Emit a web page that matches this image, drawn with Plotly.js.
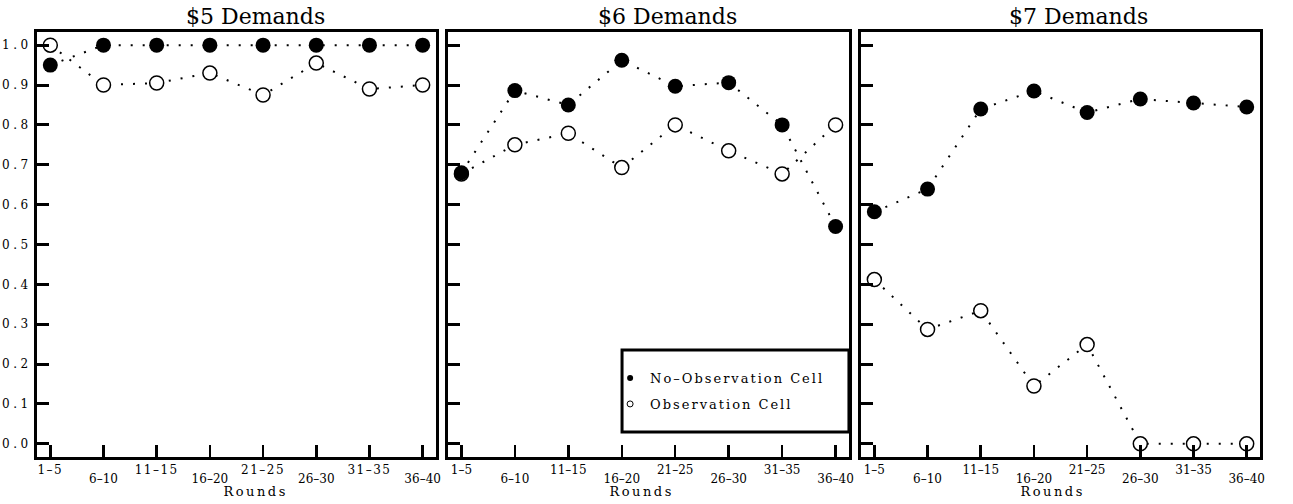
<!DOCTYPE html>
<html><head><meta charset="utf-8">
<script src="https://cdn.plot.ly/plotly-3.0.1.min.js"></script>
<style>
body{margin:0;background:#fff}
#chart{width:1293px;height:504px}
.xtick text{letter-spacing:1.5px}
.ytick text{letter-spacing:3.5px}
.legendtext{letter-spacing:2px}
.annotation[data-index="3"] text,.annotation[data-index="4"] text,.annotation[data-index="5"] text{letter-spacing:2.5px}
</style></head><body><div id="chart"></div>
<script>
const rounds = ['1–5','6–10','11–15','16–20','21–25','26–30','31–35','36–40'];
const panelTitles = ['$5 Demands','$6 Demands','$7 Demands'];
const seriesNames = ['No–Observation Cell','Observation Cell'];
const noObs5 = [0.95,1.0,1.0,1.0,1.0,1.0,1.0,1.0];
const obs5   = [1.0,0.90,0.905,0.93,0.875,0.955,0.89,0.90];
const noObs6 = [0.68,0.886,0.85,0.962,0.897,0.906,0.80,0.545];
const obs6   = [0.677,0.75,0.779,0.693,0.80,0.735,0.677,0.80];
const noObs7 = [0.582,0.639,0.84,0.885,0.831,0.865,0.855,0.845];
const obs7   = [0.412,0.287,0.334,0.145,0.249,0.0,0.0,0.0];
const yTicks = [0,0.1,0.2,0.3,0.4,0.5,0.6,0.7,0.8,0.9,1.0];

// labels alternate between an upper row (even positions) and a lower row (odd positions)
const upperText = rounds.map((r, i) => i % 2 === 0 ? r : '');
const lowerIdx = rounds.map((r, i) => i).filter(i => i % 2 === 1);
const lowerText = lowerIdx.map(i => rounds[i]);

const FONT = 'DejaVu Serif';
const lineStyle = {color:'#000', width:2, dash:'2px,10px'};
const filledMarker = {color:'#000', size:15, line:{width:0}};
const openMarker = {color:'#fff', size:14, line:{color:'#000', width:1.5}};

const panels = [[noObs5, obs5],[noObs6, obs6],[noObs7, obs7]];
const traces = [];
panels.forEach((p, i) => {
  const xa = i === 0 ? 'x' : 'x' + (i+1);
  const ya = i === 0 ? 'y' : 'y' + (i+1);
  traces.push({x: rounds, y: p[1], xaxis: xa, yaxis: ya, mode:'lines+markers', line: lineStyle, marker: openMarker, showlegend:false, cliponaxis:false, hoverinfo:'skip'});
  traces.push({x: rounds, y: p[0], xaxis: xa, yaxis: ya, mode:'lines+markers', line: lineStyle, marker: filledMarker, showlegend:false, cliponaxis:false, hoverinfo:'skip'});
  // empty carrier trace so the lower-row label axis is drawn
  traces.push({x:[null], y:[null], xaxis:'x' + (i+4), yaxis: ya, mode:'markers', showlegend:false, hoverinfo:'skip'});
});
// legend entries
traces.push({x:[null], y:[null], xaxis:'x2', yaxis:'y2', mode:'markers', name: seriesNames[0], legendgroup:'a', marker:{color:'#000', size:6, line:{width:0}}, showlegend:true});
traces.push({x:[null], y:[null], xaxis:'x2', yaxis:'y2', mode:'markers', name: seriesNames[1], legendgroup:'b', marker:{color:'#fff', size:6, line:{color:'#000', width:1}}, showlegend:true});

const domains = [[0, 0.3262],[0.3361, 0.6639],[0.6738, 1]];
const axCommon = {showline:true, linewidth:3, linecolor:'#000', mirror:true, ticks:'inside', ticklen:12, tickwidth:3, tickcolor:'#000', showgrid:false, zeroline:false, fixedrange:true};

const layout = {
  width:1293, height:504,
  margin:{l:37, r:33, t:32, b:47},
  paper_bgcolor:'#fff', plot_bgcolor:'#fff',
  font:{family:FONT, color:'#000', size:12},
  legend:{x:0.4686, y:0.221, xanchor:'left', yanchor:'top', bgcolor:'rgba(0,0,0,0)', borderwidth:0, font:{family:FONT, size:13, color:'#000'}, traceorder:'grouped', tracegroupgap:6},
  shapes:[{type:'rect', xref:'x2 domain', yref:'y2 domain', x0:0.434, x1:1, y0:0.0588, y1:0.2518, line:{color:'#000', width:3}, fillcolor:'rgba(0,0,0,0)', layer:'above'}],
  annotations:[]
};
const titleX = [255, 667, 1078];
const roundsX = [255, 641, 1052];
panelTitles.forEach((t, i) => {
  layout.annotations.push({text:t, xref:'paper', yref:'paper', x:(titleX[i]-37)/1223, y:1+(32-16)/425, xanchor:'center', yanchor:'middle', showarrow:false, font:{family:FONT, size:22, color:'#000'}});
});
panelTitles.forEach((t, i) => {
  layout.annotations.push({text:'Rounds', xref:'paper', yref:'paper', x:(roundsX[i]-37)/1223, y:(457-492)/425, xanchor:'center', yanchor:'middle', showarrow:false, font:{family:FONT, size:13, color:'#000'}});
});
for (let i = 0; i < 3; i++) {
  const sx = i === 0 ? '' : String(i+1);
  const ox = String(i+4);
  layout['xaxis' + sx] = Object.assign({}, axCommon, {domain: domains[i], anchor: 'y' + sx, type:'category', range:[-0.25, 7.25], tickmode:'array', tickvals: rounds, ticktext: upperText, tickfont:{family:FONT, size:12, color:'#000'}, tickwidth:2.5});
  layout['xaxis' + ox] = {overlaying: 'x' + sx, anchor: 'y' + sx, side:'bottom', type:'linear', range:[-0.25, 7.25], tickmode:'array', tickvals: lowerIdx, ticktext: lowerText, ticks:'', showline:false, showgrid:false, zeroline:false, fixedrange:true, ticklabelstandoff:13, tickfont:{family:FONT, size:12, color:'#000'}};
  layout['yaxis' + sx] = Object.assign({}, axCommon, {domain:[0,1], anchor: 'x' + sx, range:[-0.033, 1.033], tickmode:'array', tickvals: yTicks, tickformat:'.1f', showticklabels: i === 0, tickfont:{family:FONT, size:12, color:'#000'}});
}
Plotly.newPlot('chart', traces, layout, {displayModeBar:false, staticPlot:true});
</script></body></html>
